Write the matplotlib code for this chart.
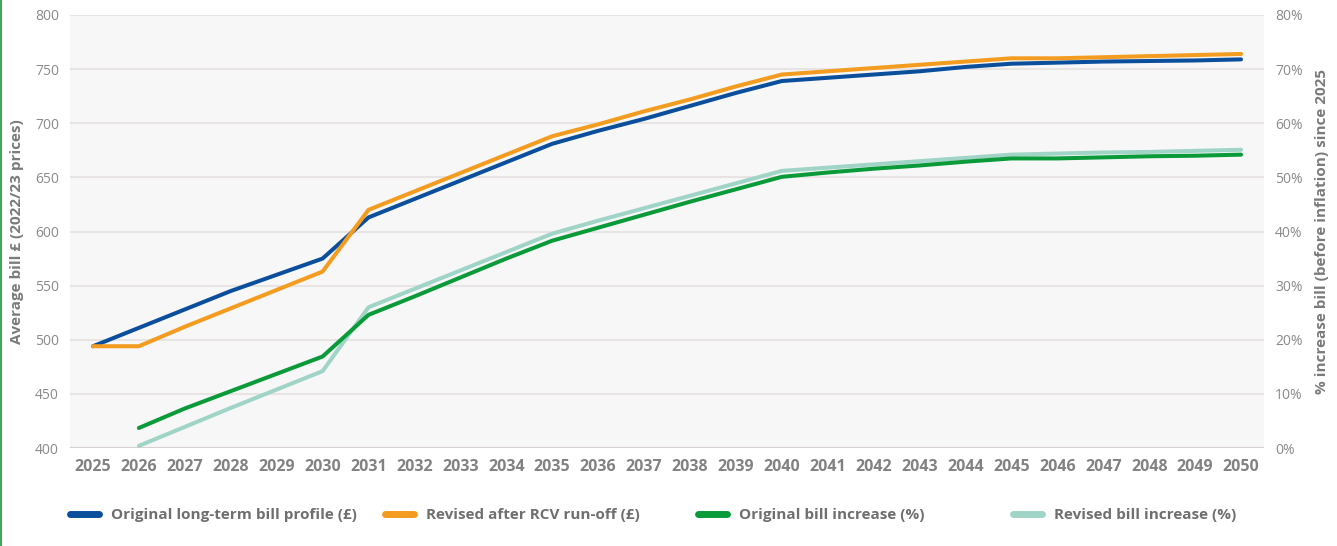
import matplotlib.pyplot as plt
from matplotlib.lines import Line2D
from matplotlib.ticker import FuncFormatter

years = list(range(2025, 2051))

# average bill, 2022/23 prices (left axis)
original_bill = [494, 511, 528, 545, 560, 575, 613, 630, 647, 664, 681,
                 693, 704, 716, 728, 739, 742, 745, 748, 752, 755,
                 756, 757, 757.5, 758, 759]
revised_bill = [494, 494, 512, 529, 546, 563, 620, 637, 654, 671, 688,
                699, 711, 722, 734, 745, 748, 751, 754, 757, 760,
                760, 761, 762, 763, 764]

# % increase since 2025 (right axis), series start in 2026
pct_years = years[1:]
original_pct = [3.7, 7.3, 10.5, 13.7, 16.9, 24.6, 28.0, 31.5, 35.0, 38.3,
                40.7, 43.1, 45.5, 47.8, 50.1, 50.9, 51.6, 52.2, 52.9, 53.5,
                53.5, 53.7, 53.9, 54.0, 54.2]
revised_pct = [0.4, 3.9, 7.4, 10.8, 14.2, 26.0, 29.4, 32.8, 36.2, 39.6,
               42.0, 44.3, 46.6, 48.9, 51.2, 51.8, 52.4, 53.0, 53.6, 54.2,
               54.4, 54.6, 54.7, 54.9, 55.1]

labels = ['Original long-term bill profile (£)', 'Revised after RCV run-off (£)',
          'Original bill increase (%)', 'Revised bill increase (%)']
colors = ['#0b4f9c', '#f39c1f', '#0a9a3a', '#9fd4c7']

plt.rcParams['font.family'] = ['Open Sans', 'DejaVu Sans']
tick_grey = '#8a8a8a'
label_grey = '#7a7a7a'

fig = plt.figure(figsize=(13.37, 5.46), dpi=100)
ax = fig.add_axes([70 / 1337, 1 - 448 / 546, 1194 / 1337, 433 / 546])
ax2 = ax.twinx()

ax.set_facecolor('#f7f7f7')
lw = 2.9
ax2.plot(pct_years, revised_pct, color=colors[3], lw=lw, solid_capstyle='round')
ax2.plot(pct_years, original_pct, color=colors[2], lw=lw, solid_capstyle='round')
ax.plot(years, original_bill, color=colors[0], lw=lw, solid_capstyle='round', zorder=3)
ax.plot(years, revised_bill, color=colors[1], lw=lw, solid_capstyle='round', zorder=3)

ax.set_xlim(2024.5, 2050.5)
ax.set_ylim(400, 800)
ax.set_yticks(range(400, 801, 50))
ax2.set_ylim(0, 80)
ax2.set_yticks(range(0, 81, 10))
ax2.yaxis.set_major_formatter(FuncFormatter(lambda v, p: f'{v:.0f}%'))
ax.set_xticks(years)

ax.grid(axis='y', color='#e8e4e4', lw=1.5)
ax.set_axisbelow(True)
for a in (ax, ax2):
    for s in a.spines.values():
        s.set_visible(False)
    a.tick_params(length=0, colors=tick_grey, labelsize=10)
ax.axhline(400, color='#d8d2d0', lw=1.5, zorder=1)

ax.tick_params(axis='x', pad=8, labelsize=11.5)
for t in ax.get_xticklabels():
    t.set_fontweight('bold')
    t.set_color('#828282')
ax.tick_params(axis='y', pad=8)
ax2.tick_params(axis='y', pad=8)

ax.set_ylabel('Average bill £ (2022/23 prices)', fontsize=11, fontweight='bold',
              color=label_grey, labelpad=8)
ax2.set_ylabel('% increase bill (before inflation) since 2025', fontsize=11,
               fontweight='bold', color=label_grey, labelpad=9)

# legend entries placed in fixed-width columns
x_starts = [70, 385, 698, 1013]
for lab, col, x0 in zip(labels, colors, x_starts):
    h = Line2D([], [], color=col, lw=5, solid_capstyle='round')
    fig.legend([h], [lab], loc='center left', bbox_to_anchor=(x0 / 1337, 1 - 515 / 546),
               frameon=False, handlelength=1.9, handletextpad=0.8, borderpad=0,
               borderaxespad=0, prop={'weight': 'bold', 'size': 11},
               labelcolor='#6f6f6f')

fig.add_artist(Line2D([0.0008, 0.0008], [0, 1], color='#1a9a3a', lw=1.2,
                      transform=fig.transFigure))

fig.savefig('out.png', dpi=100, facecolor='white')
